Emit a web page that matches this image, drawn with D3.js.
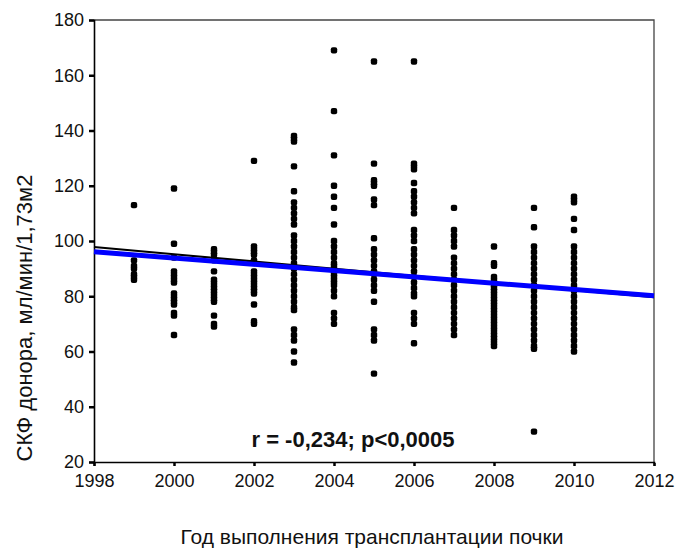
<!DOCTYPE html>
<html>
<head>
<meta charset="utf-8">
<script src="https://cdn.jsdelivr.net/npm/d3@7"></script>
<style>
  body { margin: 0; background: #fff; }
  svg { font-family: Arial, "Liberation Sans", sans-serif; }
</style>
</head>
<body>
<svg width="676" height="550"></svg>
<script>
// donor GFR per transplant year
const gfr1999 = [113, 93, 91, 90, 88, 87, 86];
const gfr2000 = [119, 99, 94, 89, 88, 87, 86, 85, 81, 80, 79, 78, 77, 74, 73, 66];
const gfr2001 = [97, 96, 95, 93, 89, 86, 85, 84, 83, 82, 81, 80, 79, 78, 73, 70, 69];
const gfr2002 = [129, 98, 97, 96, 95, 93, 89, 88, 87, 86, 85, 84, 83, 82, 81, 77, 71, 70];
const gfr2003 = [138, 137, 136, 127, 118, 114, 112, 110, 108, 106, 102, 100, 98, 96, 94,
                 92, 90, 88, 86, 84, 82, 80, 78, 76, 75, 68, 66, 64, 60, 56];
const gfr2004 = [169, 147, 131, 120, 116, 112, 106, 100, 98, 96, 94, 92, 91, 90, 89, 88,
                 87, 86, 85, 84, 82, 80, 74, 72, 70];
const gfr2005 = [165, 128, 122, 121, 120, 115, 113, 101, 97, 95, 93, 91, 89, 88, 86, 84,
                 82, 78, 68, 66, 64, 52];
const gfr2006 = [165, 128, 127, 126, 121, 118, 116, 114, 112, 110, 104, 102, 100, 97, 95,
                 93, 91, 89, 87, 85, 83, 81, 80, 74, 72, 70, 63];
const gfr2007 = [112, 104, 102, 100, 98, 94, 92, 90, 88, 86, 84, 82, 80, 78, 76, 74, 72,
                 70, 68, 66];
const gfr2008 = [98, 92, 91, 87, 86, 85, 84, 83, 82, 81, 80, 79, 78, 77, 76, 75, 74, 73,
                 72, 71, 70, 69, 68, 67, 66, 65, 64, 63, 62];
const gfr2009 = [112, 105, 98, 96, 94, 92, 90, 88, 86, 84, 82, 80, 78, 76, 74, 72, 70, 68,
                 66, 64, 62, 61, 31];
const gfr2010 = [116, 115, 114, 108, 104, 98, 96, 94, 92, 90, 88, 86, 84, 82, 80, 78, 76,
                 74, 72, 70, 68, 66, 64, 62, 60];

const years = [1999, 2000, 2001, 2002, 2003, 2004, 2005, 2006, 2007, 2008, 2009, 2010];
const byYear = [gfr1999, gfr2000, gfr2001, gfr2002, gfr2003, gfr2004, gfr2005, gfr2006,
                gfr2007, gfr2008, gfr2009, gfr2010];

const xTicks = [1998, 2000, 2002, 2004, 2006, 2008, 2010, 2012];
const yTicks = [20, 40, 60, 80, 100, 120, 140, 160, 180];

// fitted lines: [start, end] at 1998 and 2012
const fitBlue = [96.1, 80.2];
const fitBlack = [97.8, 79.6];

const annotation = "r = -0,234; p<0,0005";
const xTitle = "Год выполнения трансплантации почки";
const yTitle = "СКФ донора, мл/мин/1,73м2";

const svg = d3.select("svg");
const plotL = 94, plotR = 654, plotT = 20, plotB = 462;

const x = d3.scaleLinear().domain([1998, 2012]).range([plotL, plotR]);
const y = d3.scaleLinear().domain([20, 180]).range([plotB, plotT]);

// flatten to points
let points = [];
years.forEach((yr, i) => {
    byYear[i].forEach(v => points.push({ year: yr, gfr: v }));
});

// frame (top & right)
svg.append("path")
    .attr("d", `M${plotL},${plotT}H${plotR}V${plotB}`)
    .attr("fill", "none")
    .attr("stroke", "#444")
    .attr("stroke-width", 1.3);

// y axis
const yAxis = svg.append("g")
    .attr("transform", `translate(${plotL},0)`)
    .call(d3.axisLeft(y).tickValues(yTicks).tickSize(5).tickPadding(5));
yAxis.select(".domain").attr("stroke", "#000").attr("stroke-width", 1.6);
yAxis.selectAll(".tick line").attr("stroke", "#000").attr("stroke-width", 2.5);
yAxis.selectAll(".tick text")
    .attr("fill", "#111")
    .style("font-size", "18px");

// x axis
const xAxis = svg.append("g")
    .attr("transform", `translate(0,${plotB})`)
    .call(d3.axisBottom(x).tickValues(xTicks).tickFormat(d3.format("d")).tickSize(4).tickPadding(8));
xAxis.select(".domain").attr("stroke", "#000").attr("stroke-width", 1.6);
xAxis.selectAll(".tick line").attr("stroke", "#000").attr("stroke-width", 2.5)
    .attr("y1", 1);
xAxis.selectAll(".tick text")
    .attr("fill", "#111")
    .style("font-size", "18px");

// points
svg.append("g").selectAll("rect")
    .data(points)
    .join("rect")
    .attr("x", d => x(d.year) - 3.2)
    .attr("y", d => y(d.gfr) - 3.2)
    .attr("width", 6.4)
    .attr("height", 6.4)
    .attr("rx", 2)
    .attr("fill", "#000");

// regression lines
svg.append("line")
    .attr("x1", x(1998)).attr("y1", y(fitBlack[0]))
    .attr("x2", x(2012)).attr("y2", y(fitBlack[1]))
    .attr("stroke", "#000")
    .attr("stroke-width", 2);
svg.append("line")
    .attr("x1", x(1998)).attr("y1", y(fitBlue[0]))
    .attr("x2", x(2012)).attr("y2", y(fitBlue[1]))
    .attr("stroke", "#0000ff")
    .attr("stroke-width", 5);

// annotation
svg.append("text")
    .attr("x", 353)
    .attr("y", 447)
    .attr("text-anchor", "middle")
    .style("font-size", "22px")
    .style("font-weight", "bold")
    .attr("fill", "#111")
    .text(annotation);

// axis titles
svg.append("text")
    .attr("x", 372)
    .attr("y", 544)
    .attr("text-anchor", "middle")
    .style("font-size", "21px")
    .attr("fill", "#111")
    .text(xTitle);

svg.append("text")
    .attr("transform", "translate(32,318) rotate(-90)")
    .attr("text-anchor", "middle")
    .style("font-size", "22px")
    .attr("fill", "#111")
    .text(yTitle);
</script>
</body>
</html>
